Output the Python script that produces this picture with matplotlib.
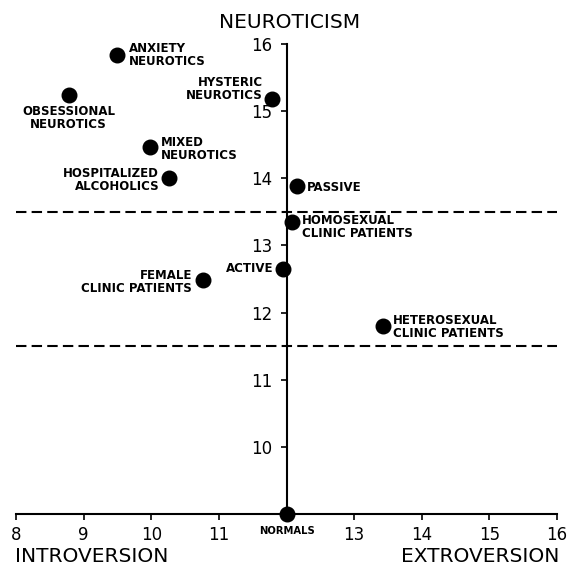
import matplotlib.pyplot as plt

# group means: (extroversion, neuroticism)
groups = ["ANXIETY\nNEUROTICS", "OBSESSIONAL\nNEUROTICS", "HYSTERIC\nNEUROTICS",
          "MIXED\nNEUROTICS", "HOSPITALIZED\nALCOHOLICS", "PASSIVE",
          "HOMOSEXUAL\nCLINIC PATIENTS", "ACTIVE", "FEMALE\nCLINIC PATIENTS",
          "HETEROSEXUAL\nCLINIC PATIENTS", "NORMALS"]
extroversion = [9.5, 8.78, 11.79, 9.98, 10.26, 12.16, 12.08, 11.95, 10.77, 13.43, 12.0]
neuroticism = [15.84, 15.24, 15.18, 14.46, 14.0, 13.88, 13.35, 12.65, 12.48, 11.8, 9.0]
cutoffs = [13.5, 11.5]

x_ticks = [8, 9, 10, 11, 12, 13, 14, 15, 16]
x_ticklabels = ["8", "9", "10", "11", "", "13", "14", "15", "16"]
y_ticks = [10, 11, 12, 13, 14, 15, 16]

# label placement: (dx, dy) in points, horizontal alignment, vertical alignment
label_pos = [
    ((8.5, 0), "left", "center"),
    ((0, -7), "center", "top"),
    ((-7, 7), "right", "center"),
    ((8, -1.5), "left", "center"),
    ((-7, -1), "right", "center"),
    ((7, -1), "left", "center"),
    ((7, -4), "left", "center"),
    ((-7, 0), "right", "center"),
    ((-8, -1), "right", "center"),
    ((7, -1), "left", "center"),
    ((0, -9), "center", "top"),
]

fig = plt.figure(figsize=(5.68, 5.68), dpi=100)
ax = fig.add_axes([16 / 568, 1 - 514 / 568, 541 / 568, 470 / 568])

ax.set_xlim(8, 16)
ax.set_ylim(9, 16)

for s in ["top", "right"]:
    ax.spines[s].set_visible(False)
ax.spines["left"].set_position(("data", 12))
ax.spines["left"].set_linewidth(1.5)
ax.spines["bottom"].set_linewidth(1.5)

ax.set_xticks(x_ticks)
ax.set_xticklabels(x_ticklabels)
ax.set_yticks(y_ticks)
ax.tick_params(axis="x", direction="out", length=4, width=1.2, pad=5, labelsize=12)
ax.tick_params(axis="y", direction="out", length=4, width=1.2, pad=6, labelsize=12)

for c in cutoffs:
    ax.axhline(c, color="black", lw=1.5, dashes=(5, 2.5))

ax.scatter(extroversion, neuroticism, s=110, color="black", zorder=5, clip_on=False)

for name, x, y, (off, ha, va) in zip(groups, extroversion, neuroticism, label_pos):
    size = 7.2 if name == "NORMALS" else 8.5
    ax.annotate(name, (x, y), xytext=off, textcoords="offset points",
                ha=ha, va=va, multialignment=ha, fontsize=size,
                fontweight="bold", linespacing=1.0, annotation_clip=False)

fig.text(290 / 568, 1 - 22 / 568, "NEUROTICISM", ha="center", va="center", fontsize=14.5)
fig.text(15 / 568, 1 - 556 / 568, "INTROVERSION", ha="left", va="center", fontsize=14.5)
fig.text(559 / 568, 1 - 556 / 568, "EXTROVERSION", ha="right", va="center", fontsize=14.5)

fig.savefig("out.png", dpi=100)
